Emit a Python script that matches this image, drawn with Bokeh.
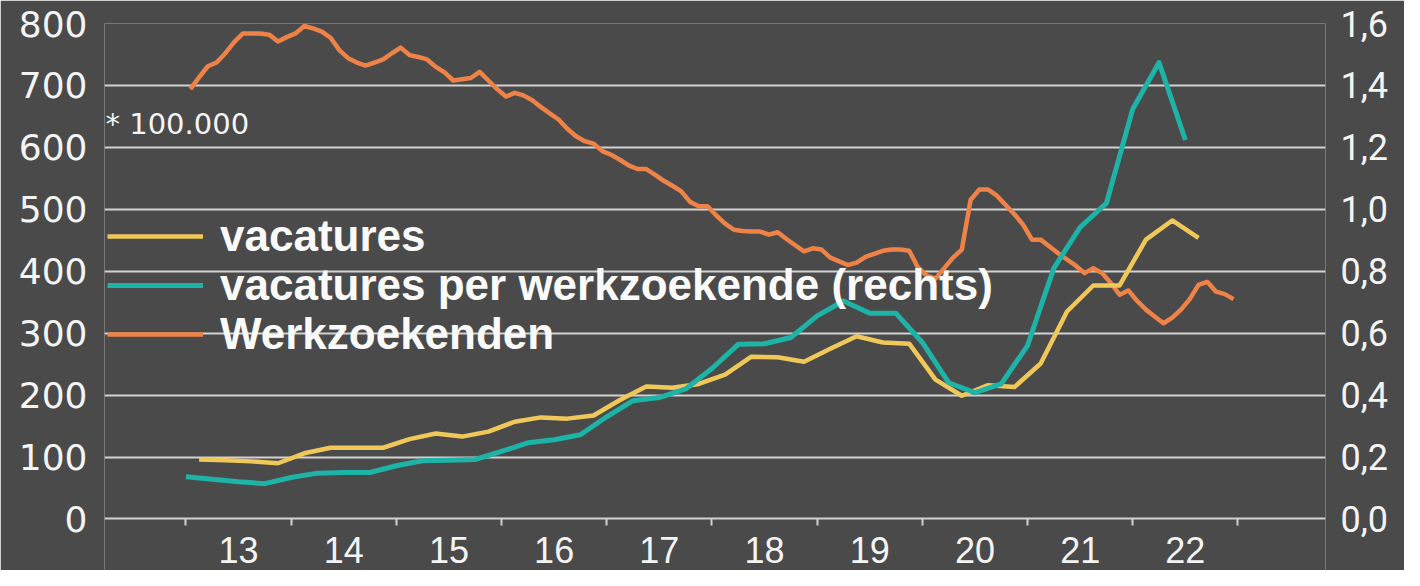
from bokeh.plotting import figure
from bokeh.models import (Range1d, LinearAxis, FixedTicker, CustomJSTickFormatter,
                          Legend, LegendItem, Label)
from bokeh.embed import file_html
from bokeh.resources import INLINE

# ---------------- data ----------------
# Werkzoekenden (monthly, Jan 2013 - Dec 2022), left axis
werkzoekenden = [
    694, 713, 731, 737, 752, 770, 784, 784, 784, 782, 771, 778,   # 2013
    784, 796, 792, 787, 777, 757, 744, 737, 732, 737, 742, 752,   # 2014
    761, 749, 746, 742, 730, 721, 708, 710, 712, 722, 708, 694,   # 2015
    682, 688, 684, 676, 665, 655, 645, 630, 618, 610, 606, 594,   # 2016
    588, 580, 571, 565, 565, 556, 546, 538, 529, 512, 505, 505,   # 2017
    490, 477, 467, 465, 464, 464, 459, 463, 452, 442, 432, 437,   # 2018
    435, 422, 416, 410, 414, 423, 428, 433, 435, 435, 433, 406,   # 2019
    393, 388, 405, 422, 435, 515, 532, 532, 522, 507, 492, 475,   # 2020
    451, 451, 440, 429, 419, 409, 397, 405, 397, 381, 362, 369,   # 2021
    352, 338, 327, 316, 325, 338, 355, 378, 383, 367, 363, 355,   # 2022
]

# Vacatures (quarterly, 2013Q1 - 2022Q3), left axis
vacatures = [
    96, 95, 93, 90,        # 2013
    106, 115, 115, 115,    # 2014
    129, 138, 133, 141,    # 2015
    157, 164, 162, 167,    # 2016
    192, 214, 212, 218,    # 2017
    233, 262, 261, 254,    # 2018
    275, 295, 285, 283,    # 2019
    225, 199, 216, 213,    # 2020
    251, 335, 377, 377,    # 2021
    451, 482, 454,         # 2022
]

# Vacatures per werkzoekende (quarterly, 2013Q1 - 2022Q3), right axis
per_werkzoekende = [
    0.136, 0.128, 0.120, 0.114,
    0.134, 0.148, 0.150, 0.150,
    0.172, 0.188, 0.190, 0.192,
    0.218, 0.246, 0.256, 0.272,
    0.330, 0.382, 0.392, 0.420,
    0.486, 0.564, 0.566, 0.586,
    0.656, 0.704, 0.664, 0.664,
    0.570, 0.440, 0.408, 0.436,
    0.560, 0.810, 0.942, 1.020,
    1.324, 1.474, 1.224,
]

year_labels = ["13", "14", "15", "16", "17", "18", "19", "20", "21", "22"]
left_ticks = [0, 100, 200, 300, 400, 500, 600, 700, 800]
right_ticks = [0.0, 0.2, 0.4, 0.6, 0.8, 1.0, 1.2, 1.4, 1.6]
legend_labels = ["vacatures", "vacatures per werkzoekende (rechts)", "Werkzoekenden"]
unit_note = "* 100.000"

# time positions (decimal years)
x_month = [2013 + (i + 0.5) / 12 for i in range(len(werkzoekenden))]
x_vac = [2013 + q / 4 + 0.125 for q in range(len(vacatures))]
x_ratio = [2013 + q / 4 for q in range(len(per_werkzoekende))]
year_edges = [2013 + k for k in range(len(year_labels) + 1)]
year_mids = [2013.5 + k for k in range(len(year_labels))]

# ---------------- style ----------------
BG = "#4a4a4a"
GRID = "#d2d2d2"
TXT = "#f4f4f4"
YELLOW = "#f0c85a"
TEAL = "#1db3a6"
ORANGE = "#ef8246"

# frame runs to the bottom of the figure; the value 0 sits 51.5 px above it
Y_MIN = -83.2
p = figure(width=1404, height=570, output_backend="svg", toolbar_location=None,
           x_range=Range1d(2012.226, 2023.832), y_range=Range1d(Y_MIN, 800),
           min_border_left=104, min_border_right=79, min_border_top=23, min_border_bottom=0,
           background_fill_color=BG, border_fill_color=BG, outline_line_color=None)
p.extra_y_ranges = {"ratio": Range1d(Y_MIN / 500.0, 1.6)}

# x axis placed at value 0: labels mid-year, small ticks at year boundaries
xa = p.xaxis[0]
xa.fixed_location = 0
xa.ticker = FixedTicker(ticks=year_mids, minor_ticks=year_edges)
xa.major_label_overrides = {m: lab for m, lab in zip(year_mids, year_labels)}
xa.axis_line_color = None
xa.major_tick_line_color = None
xa.major_tick_out = 0
xa.major_tick_in = 0
xa.minor_tick_line_color = GRID
xa.minor_tick_line_width = 2
xa.minor_tick_in = 0
xa.minor_tick_out = 7
xa.major_label_standoff = 11
xa.major_label_text_font = "Liberation Sans"
xa.major_label_text_font_size = "36px"
xa.major_label_text_color = TXT

# left axis
ya = p.yaxis[0]
ya.ticker = FixedTicker(ticks=left_ticks)
ya.axis_line_color = None
ya.major_tick_line_color = None
ya.minor_tick_line_color = None
ya.major_tick_out = 0
ya.major_tick_in = 0
ya.major_label_standoff = 17
ya.major_label_text_font = "DejaVu Sans"
ya.major_label_text_font_size = "36px"
ya.major_label_text_color = TXT

# right axis
ra = LinearAxis(y_range_name="ratio", ticker=FixedTicker(ticks=right_ticks),
                formatter=CustomJSTickFormatter(code="return tick.toFixed(1).replace('.', ',');"))
ra.axis_line_color = None
ra.major_tick_line_color = None
ra.minor_tick_line_color = None
ra.major_tick_out = 0
ra.major_tick_in = 0
ra.major_label_standoff = 15
ra.major_label_text_font = "Roboto"
ra.major_label_text_font_size = "36px"
ra.major_label_text_color = TXT
p.add_layout(ra, "right")

p.xgrid.visible = False
p.ygrid.grid_line_color = GRID
p.ygrid.grid_line_width = 2

# lines
r_w = p.line(x_month, werkzoekenden, line_color=ORANGE, line_width=4.5, line_join="round")
r_v = p.line(x_vac, vacatures, line_color=YELLOW, line_width=4.5, line_join="round")
r_r = p.line(x_ratio, per_werkzoekende, line_color=TEAL, line_width=5, line_join="round",
             y_range_name="ratio")

# legend: one row per legend so the rows can sit close together
for lab, rend, ybot in zip(legend_labels, [r_v, r_r, r_w], [309, 260, 211]):
    lg = Legend(items=[LegendItem(label=lab, renderers=[rend])], location=(3, ybot))
    lg.label_text_font = "Liberation Sans"
    lg.label_text_font_style = "bold"
    lg.label_text_font_size = "44px"
    lg.label_text_color = "#fafafa"
    lg.glyph_width = 96
    lg.glyph_height = 20
    lg.label_standoff = 17
    lg.padding = 0
    lg.margin = 0
    lg.background_fill_alpha = 0
    lg.border_line_color = None
    p.add_layout(lg)

note = Label(x=2012.226, y=637, x_offset=1, text=unit_note, text_baseline="middle",
             text_font="DejaVu Sans", text_font_size="29px", text_color=TXT)
p.add_layout(note)

open("out.html", "w").write(file_html(p, INLINE))
